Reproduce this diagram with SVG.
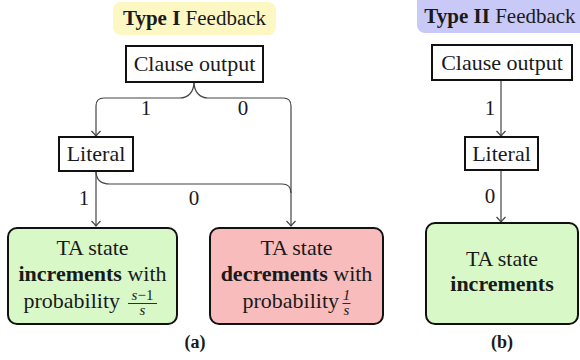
<svg xmlns="http://www.w3.org/2000/svg" width="580" height="360" viewBox="0 0 580 360" font-family="'Liberation Serif', 'DejaVu Serif', serif">
<defs>
<style>
text{font-family:'Liberation Serif','DejaVu Serif',serif;font-size:22px;fill:#1a1a1a;text-anchor:middle}
.t{font-size:21px}
.b{font-weight:bold}
.fr{font-size:15px;font-style:italic}
.box{fill:#fff;stroke:#111;stroke-width:2}
.ta{stroke:#111;stroke-width:2}
.c{fill:none;stroke:#444;stroke-width:1.2}
.cap{font-weight:bold;font-size:18px}
</style>
<marker id="arr" markerUnits="userSpaceOnUse" orient="auto" markerWidth="12" markerHeight="12" refX="0" refY="0" viewBox="-6 -6 12 12" overflow="visible">
<path d="M-5,-4.5 Q-1.2,-0.8 0,0 Q-1.2,0.8 -5,4.5" fill="none" stroke="#444" stroke-width="1.2"/>
</marker>
</defs>
<rect width="580" height="360" fill="#fff"/>

<g id="title-a">
<rect x="113" y="2" width="163" height="33" rx="8" fill="#fdf7c3"/>
<text class="t" x="194.5" y="25"><tspan class="b">Type I</tspan> Feedback</text>
</g>
<g id="title-b">
<rect x="417" y="-8" width="175" height="41" rx="8" fill="#c9c9f8"/>
<text class="t" x="500" y="23"><tspan class="b">Type II</tspan> Feedback</text>
</g>

<g id="connectors">
<path class="c" d="M194,82 C194,92 188,98 180,98 L104,98 Q96,98 96,106 L96,136" marker-end="url(#arr)"/>
<path class="c" d="M194,82 C194,92 200,98 208,98 L283,98 Q291,98 291,106 L291,226" marker-end="url(#arr)"/>
<path class="c" d="M96,171 L96,226" marker-end="url(#arr)"/>
<path class="c" d="M96,171 Q96,184 110,184 L282,184 Q291,184 291,193"/>
<path class="c" d="M501,80 L501,136" marker-end="url(#arr)"/>
<path class="c" d="M501,170 L501,222" marker-end="url(#arr)"/>
<text class="t" x="146" y="115">1</text>
<text class="t" x="243" y="115">0</text>
<text class="t" x="84" y="205">1</text>
<text class="t" x="194" y="205">0</text>
<text class="t" x="490" y="115">1</text>
<text class="t" x="490" y="203">0</text>
</g>

<g id="clause-a">
<rect class="box" x="126" y="46" width="137" height="36"/>
<text x="194.5" y="71">Clause output</text>
</g>
<g id="literal-a">
<rect class="box" x="59" y="137" width="74" height="34"/>
<text x="96" y="161">Literal</text>
</g>
<g id="inc-a">
<rect class="ta" x="8" y="228" width="169" height="96" rx="9" fill="#d8f8c8"/>
<text x="92.5" y="255">TA state</text>
<text x="92.5" y="281"><tspan class="b">increments</tspan> with</text>
<text x="120" y="308" style="text-anchor:end">probability</text>
<text class="fr" x="142.5" y="300">s<tspan font-style="normal">−1</tspan></text>
<line x1="128" y1="303.5" x2="157" y2="303.5" stroke="#1a1a1a" stroke-width="0.9"/>
<text class="fr" x="142.5" y="315">s</text>
</g>
<g id="dec-a">
<rect class="ta" x="210" y="228" width="173" height="96" rx="9" fill="#f9bcbc"/>
<text x="296.5" y="255">TA state</text>
<text x="296.5" y="281"><tspan class="b">decrements</tspan> with</text>
<text x="339" y="308" style="text-anchor:end">probability</text>
<text class="fr" x="346.5" y="300" font-style="normal">1</text>
<line x1="342.5" y1="303.5" x2="350.5" y2="303.5" stroke="#1a1a1a" stroke-width="0.9"/>
<text class="fr" x="346.5" y="315">s</text>
</g>
<text x="195" y="348" class="cap">(a)</text>

<g id="clause-b">
<rect class="box" x="432" y="45" width="140" height="35"/>
<text x="502" y="70">Clause output</text>
</g>
<g id="literal-b">
<rect class="box" x="465" y="137" width="73" height="33"/>
<text x="501.5" y="161">Literal</text>
</g>
<g id="inc-b">
<rect class="ta" x="426" y="223" width="152" height="101" rx="9" fill="#d8f8c8"/>
<text x="502" y="266">TA state</text>
<text x="502" y="291" class="b">increments</text>
</g>
<text x="502" y="348" class="cap">(b)</text>
</svg>
